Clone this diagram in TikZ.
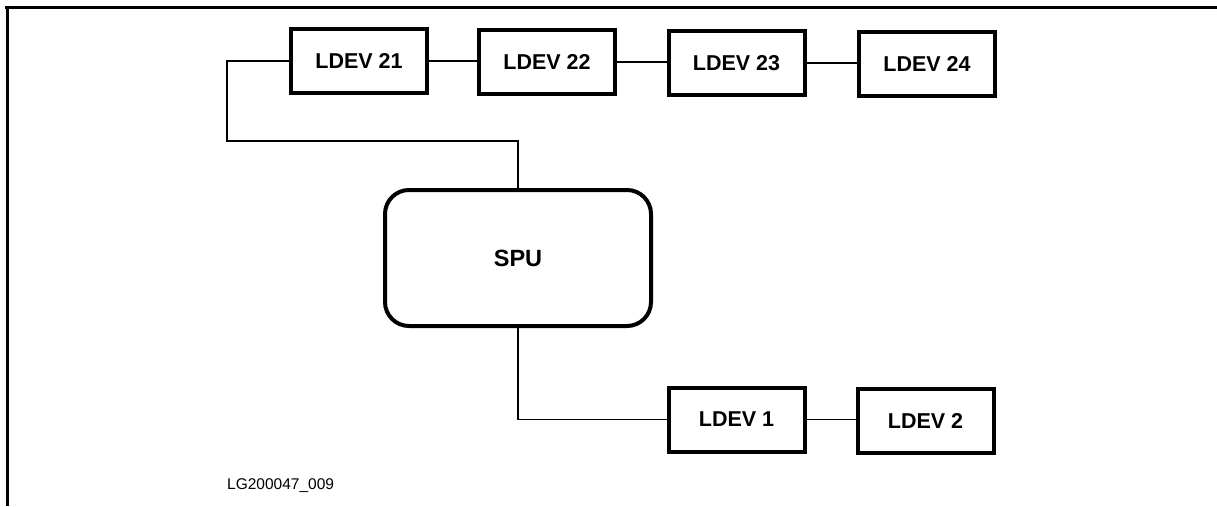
\documentclass[tikz,border=0pt]{standalone}
\usepackage{fontspec}
\setmainfont{Liberation Sans}
\begin{document}
\begin{tikzpicture}[x=1pt,y=-1pt,
  devbox/.style={draw=black,line width=4pt,rectangle,minimum width=136pt,minimum height=64pt,inner sep=0pt,font=\fontsize{21.5}{24}\selectfont\bfseries},
  spubox/.style={draw=black,line width=4pt,rectangle,rounded corners=24pt,minimum width=266pt,minimum height=136pt,inner sep=0pt,font=\fontsize{23.5}{26}\selectfont\bfseries},
  wire/.style={draw=black,line width=1.5pt},
  frame/.style={draw=black,line width=3pt}]
\useasboundingbox (0,0) rectangle (1217,506);
\draw[frame] (5,7.5) -- (1217,7.5);
\draw[frame] (7.5,6) -- (7.5,506);
\node[devbox] (l21) at (359,61) {LDEV 21};
\node[devbox] (l22) at (547,62) {LDEV 22};
\node[devbox] (l23) at (736.5,63) {LDEV 23};
\node[devbox] (l24) at (927,64) {LDEV 24};
\node[spubox] (spu) at (518,258) {\raisebox{-4pt}{SPU}};
\node[devbox] (l1) at (736.5,419.5) {LDEV 1};
\node[devbox] (l2) at (925.5,420.5) {LDEV 2};
\coordinate (bend) at (227,141);
\draw[wire] (l21.west) -| (bend) -| (spu.north);
\draw[wire] (l21.east) -- (l22.west |- l21.east);
\draw[wire] (l22.east) -- (l23.west |- l22.east);
\draw[wire] (l23.east) -- (l24.west |- l23.east);
\draw[wire] (spu.south) |- (l1.west);
\draw[wire] (l1.east) -- (l2.west |- l1.east);
\node[anchor=west,inner sep=0pt,font=\fontsize{15.5}{18}\selectfont] (lbl) at (227,486) {LG200047\_009};
\end{tikzpicture}
\end{document}
